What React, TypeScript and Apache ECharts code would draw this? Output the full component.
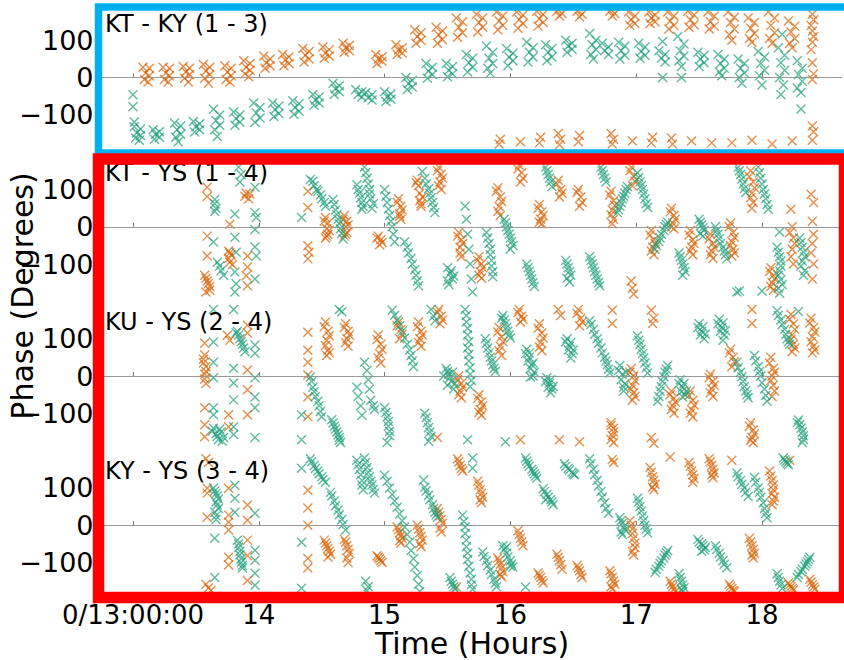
import React, { useEffect, useRef } from 'react';
import * as echarts from 'echarts';

const PANEL_TITLES = ['KT - KY (1 - 3)', 'KT - YS (1 - 4)', 'KU - YS (2 - 4)', 'KY - YS (3 - 4)'];
const HOUR_TICKS = [13, 14, 15, 16, 17, 18];
const HOUR_LABELS = ['0/13:00:00', '14', '15', '16', '17', '18'];
const PHASE_TICKS = [-100, 0, 100];
const PHASE_LABELS = ['\u2212100', '0', '100'];
const X_TITLE = 'Time (Hours)';
const Y_TITLE = 'Phase (Degrees)';

const P1_ORANGE = [
[13.08,28],[13.13,25],[13.10,12],[13.13,5],[13.09,-5],[13.12,-12],
[13.24,28],[13.29,25],[13.26,12],[13.29,5],[13.25,-5],[13.28,-12],
[13.40,30],[13.45,25],[13.42,15],[13.45,8],[13.41,-2],[13.44,-12],
[13.56,35],[13.61,28],[13.58,18],[13.61,8],[13.57,-2],[13.60,-15],
[13.73,32],[13.78,25],[13.75,15],[13.78,5],[13.74,-5],[13.77,-12],
[13.88,45],[13.93,38],[13.90,28],[13.93,20],[13.89,10],[13.92,2],
[14.04,58],[14.09,50],[14.06,40],[14.09,32],[14.05,25],
[14.19,62],[14.24,55],[14.21,47],[14.24,38],[14.20,32],
[14.35,78],[14.40,70],[14.37,60],[14.40,50],[14.36,42],
[14.51,82],[14.56,75],[14.53,66],[14.56,58],[14.52,52],
[14.67,92],[14.72,86],[14.69,80],[14.72,72],[14.68,68],
[14.93,62],[14.98,56],[14.95,50],[14.98,44],[14.94,38],
[15.09,88],[15.14,80],[15.11,74],[15.14,66],[15.10,62],
[15.24,128],[15.29,120],[15.26,110],[15.29,100],[15.25,92],
[15.41,135],[15.46,125],[15.43,115],[15.46,102],[15.42,92],
[15.57,160],[15.62,150],[15.59,135],[15.62,120],[15.58,108],
[15.73,170],[15.78,160],[15.75,148],[15.78,135],[15.74,122],
[15.89,176],[15.94,165],[15.91,152],[15.94,140],[15.90,128],
[16.05,176],[16.10,168],[16.07,155],[16.10,145],[16.06,132],
[16.21,178],[16.26,170],[16.23,158],[16.26,148],[16.22,138],
[16.37,178],[16.41,172],[16.39,165],
[16.53,178],[16.57,170],[16.55,163],
[16.79,178],[16.83,172],[16.81,165],
[16.94,176],[16.99,165],[16.96,155],[16.99,145],[16.95,140],
[17.10,176],[17.15,168],[17.12,160],[17.15,150],[17.11,145],
[17.25,176],[17.30,165],[17.27,152],[17.30,140],[17.26,130],
[17.41,178],[17.46,168],[17.43,155],[17.46,142],[17.42,135],
[17.57,176],[17.62,165],[17.59,150],[17.62,138],[17.58,130],
[17.73,176],[17.78,162],[17.75,148],[17.78,130],[17.74,115],[17.76,100],
[17.89,160],[17.94,148],[17.91,132],[17.94,118],[17.90,105],[17.92,95],
[18.05,176],[18.10,160],[18.07,140],[18.10,120],[18.06,105],[18.08,92],
[18.21,152],[18.26,138],[18.23,122],[18.26,105],[18.22,92],[18.24,80],
[18.40,170],[18.41,155],[18.39,140],[18.40,125],[18.41,110],[18.40,95],[18.39,75],[18.40,40],[18.41,10],[18.40,-5],
[15.92,-165],[15.91,-178],[16.08,-172],[16.24,-160],[16.23,-175],[16.38,-150],[16.40,-165],[16.39,-180],
[16.55,-155],[16.54,-172],[16.80,-150],[16.82,-165],[16.81,-178],[16.97,-170],[17.13,-160],[17.12,-175],
[17.28,-162],[17.29,-178],[17.44,-170],[17.60,-175],[17.76,-175],[17.92,-168],[18.08,-178],[18.24,-170],
[18.40,-130],[18.41,-145],[18.40,-168]
];

const P1_TEAL = [
[13.00,-46],[13.00,-78],[13.01,-119],
[13.01,-132],[13.06,-138],[13.03,-148],[13.06,-155],[13.02,-162],[13.05,-168],
[13.16,-140],[13.21,-145],[13.18,-152],[13.21,-160],[13.17,-165],
[13.33,-122],[13.38,-130],[13.35,-140],[13.38,-152],[13.34,-160],[13.36,-172],
[13.48,-118],[13.53,-124],[13.50,-132],[13.53,-140],[13.49,-146],
[13.64,-85],[13.69,-100],[13.66,-115],[13.69,-128],[13.65,-140],[13.67,-158],
[13.80,-92],[13.85,-100],[13.82,-110],[13.85,-120],[13.81,-128],
[13.96,-68],[14.01,-80],[13.98,-95],[14.01,-108],[13.97,-120],
[14.11,-68],[14.16,-76],[14.13,-86],[14.16,-96],[14.12,-104],
[14.27,-62],[14.32,-70],[14.29,-80],[14.32,-90],[14.28,-98],
[14.43,-45],[14.48,-52],[14.45,-60],[14.48,-68],[14.44,-74],
[14.59,-15],[14.64,-22],[14.61,-30],[14.64,-38],[14.60,-45],
[14.77,-32],[14.82,-38],[14.79,-45],[14.82,-52],
[14.85,-40],[14.90,-46],[14.87,-54],[14.90,-60],
[15.00,-38],[15.05,-44],[15.02,-52],[15.05,-58],[15.01,-64],
[15.17,0],[15.22,-8],[15.19,-16],[15.22,-25],[15.18,-32],
[15.33,38],[15.38,28],[15.35,18],[15.38,8],[15.34,-2],
[15.49,38],[15.54,30],[15.51,20],[15.54,10],[15.50,2],
[15.65,62],[15.70,52],[15.67,40],[15.70,28],[15.66,15],
[15.81,85],[15.86,68],[15.83,52],[15.86,38],[15.82,25],[15.84,12],
[15.97,78],[16.02,65],[15.99,55],[16.02,45],[15.98,32],
[16.13,95],[16.18,80],[16.15,68],[16.18,55],[16.14,42],
[16.28,88],[16.33,78],[16.30,68],[16.33,55],[16.29,45],
[16.44,100],[16.49,92],[16.46,85],[16.49,76],[16.45,68],
[16.63,118],[16.68,100],[16.65,88],[16.68,75],[16.64,62],[16.66,50],
[16.73,92],[16.78,82],[16.75,72],[16.78,62],
[16.86,95],[16.91,85],[16.88,72],[16.91,60],[16.87,50],
[17.02,92],[17.07,82],[17.04,70],[17.07,60],[17.03,52],
[17.18,72],[17.23,62],[17.20,52],[17.23,42],[17.21,97],[17.21,0],
[17.33,110],[17.38,90],[17.35,72],[17.38,58],[17.34,45],[17.36,30],[17.36,0],
[17.49,68],[17.54,60],[17.51,50],[17.54,40],[17.50,30],
[17.65,62],[17.70,50],[17.67,38],[17.70,25],[17.66,15],[17.68,5],
[17.81,50],[17.86,38],[17.83,25],[17.86,12],[17.82,0],[17.84,-15],
[17.97,70],[18.02,55],[17.99,38],[18.02,20],[17.98,5],[18.00,-20],
[18.13,80],[18.18,60],[18.15,40],[18.18,20],[18.14,0],[18.17,-20],[18.15,-45],[18.16,116],
[18.28,45],[18.32,25],[18.29,8],[18.32,-10],[18.28,-28],[18.31,-40],[18.31,-84]
];

const P2_ORANGE = [
[13.59,106],[13.59,81],[13.59,-25],[13.59,-78],[13.57,-130],[13.59,-145],[13.61,-160],[13.58,-175],
[13.77,7],[13.76,-65],[13.78,-75],[13.77,-95],[13.79,-102],
[13.90,90],[13.92,75],[13.91,-78],[13.91,-108],[13.90,-131],[13.91,-158],
[14.39,95],[14.39,52],[14.39,-51],[14.40,-68],[14.39,-86],
[14.53,25],[14.55,10],[14.54,-5],[14.55,-20],[14.53,-30],
[14.68,30],[14.70,15],[14.69,0],[14.70,-15],[14.68,-25],
[14.95,-25],[14.97,-35],[14.96,-48],
[15.11,75],[15.13,55],[15.12,35],[15.13,20],
[15.26,125],[15.27,110],[15.28,90],[15.28,70],[15.29,55],
[15.43,160],[15.45,140],[15.44,120],[15.45,100],
[15.59,-15],[15.61,-35],[15.60,-55],[15.61,-80],
[15.75,-80],[15.77,-100],[15.76,-120],[15.77,-138],
[15.90,105],[15.92,80],[15.91,55],[15.92,30],
[16.07,165],[16.09,145],[16.08,120],
[16.23,60],[16.25,40],[16.24,20],[16.25,8],
[16.38,125],[16.40,100],[16.39,80],
[16.54,100],[16.56,80],[16.55,55],
[16.80,95],[16.82,70],[16.81,45],[16.82,20],[16.81,8],
[16.96,160],[16.98,135],[16.97,110],[16.96,-145],[16.97,-165],[16.98,-180],
[17.12,-10],[17.14,-35],[17.13,-55],[17.14,-75],
[17.28,50],[17.30,30],[17.29,10],[17.30,-5],
[17.43,-10],[17.45,-35],[17.44,-55],[17.45,-75],
[17.59,-20],[17.61,-45],[17.60,-65],[17.61,-85],
[17.75,10],[17.77,-15],[17.76,-40],[17.77,-60],[17.76,-78],
[17.91,150],[17.93,120],[17.92,90],[17.93,65],[17.92,50],
[18.07,-110],[18.09,-130],[18.08,-150],[18.09,-170],
[18.23,47],[18.24,0],[18.25,-30],[18.24,-60],[18.25,-100],
[18.39,87],[18.41,65],[18.40,15],[18.41,-20],[18.40,-45],[18.39,-70],[18.41,-100],[18.40,-140],
[13.58,-138],[13.60,-152],[13.61,-170],[13.77,-70],[13.76,-85],[13.89,82],[13.93,88],
[14.52,15],[14.56,-10],[14.54,-25],[14.67,20],[14.71,5],[14.69,-20],[14.94,-30],[14.98,-42],
[15.10,65],[15.14,45],[15.12,28],[15.25,118],[15.30,80],[15.29,62],[15.42,150],[15.46,130],[15.43,110],
[15.58,-25],[15.62,-45],[15.60,-70],[15.74,-90],[15.78,-110],[15.75,-130],[15.89,95],[15.93,68],[15.90,42],
[16.06,155],[16.10,130],[16.22,50],[16.26,30],[16.23,12],[16.37,115],[16.41,90],[16.53,92],[16.57,65],
[16.79,85],[16.83,58],[16.80,32],[16.95,150],[16.99,122],[17.11,-22],[17.15,-45],[17.12,-65],
[17.27,40],[17.31,20],[17.28,0],[17.42,-22],[17.46,-45],[17.43,-65],[17.58,-32],[17.62,-55],[17.59,-75],
[17.74,0],[17.78,-28],[17.75,-50],[17.78,-70],[17.90,135],[17.94,105],[17.91,78],
[18.06,-120],[18.10,-140],[18.07,-160],[18.22,-15],[18.26,-45],[18.23,-80]
];

const P2_TEAL = [
[13.65,73],[13.65,62],[13.66,50],[13.65,41],[13.64,-41],
[13.67,-95],[13.69,-105],[13.70,-118],[13.72,-130],
[13.81,34],[13.81,-28],[13.82,-68],[13.81,-121],[13.82,-153],[13.81,-175],
[13.84,160],[13.86,140],[13.85,120],
[13.97,106],[13.97,38],[13.98,25],[13.97,-7],[13.97,-54],[13.98,-78],[13.97,-140],
[14.34,25],
[14.41,127],[14.44,110],[14.47,95],[14.50,75],[14.53,55],
[14.59,73],[14.61,45],[14.63,20],[14.65,-5],[14.67,-33],
[14.78,113],[14.80,90],[14.82,65],[14.82,47],
[14.84,160],[14.86,130],[14.88,100],[14.89,75],[14.90,50],
[15.00,100],[15.02,65],[15.04,30],[15.06,0],[15.08,-40],
[15.16,-40],[15.19,-70],[15.22,-100],[15.25,-130],[15.27,-158],
[15.30,148],[15.33,115],[15.36,90],[15.38,65],[15.40,38],
[15.50,-110],[15.52,-125],[15.54,-140],[15.51,-155],
[15.64,55],[15.65,20],[15.66,-20],[15.67,-60],[15.68,-100],[15.69,-140],[15.70,-175],
[15.81,-15],[15.83,-45],[15.84,-75],[15.85,-105],[15.86,-134],
[15.95,20],[15.97,0],[15.99,-20],[16.01,-40],[16.00,-60],
[16.13,-100],[16.15,-120],[16.17,-140],[16.19,-160],
[16.28,160],[16.30,140],[16.32,120],[16.33,108],
[16.44,-90],[16.46,-110],[16.48,-130],[16.47,-148],
[16.63,-80],[16.65,-100],[16.67,-120],[16.69,-140],[16.71,-158],
[16.72,160],[16.74,140],[16.76,120],
[16.85,38],[16.87,55],[16.89,75],[16.91,90],[16.93,108],
[17.01,145],[17.03,120],[17.05,100],[17.07,75],[17.09,52],
[17.15,-60],[17.18,-40],[17.20,-20],[17.23,0],[17.25,12],
[17.34,-70],[17.36,-90],[17.38,-110],[17.37,-130],
[17.50,20],[17.52,5],[17.54,-10],[17.53,-25],
[17.63,0],[17.65,-20],[17.67,-45],[17.70,-65],[17.72,-86],
[17.80,-175],[17.82,-172],
[17.81,160],[17.83,140],[17.85,115],[17.87,92],
[17.97,160],[17.99,130],[18.01,100],[18.03,75],[18.05,47],
[18.00,-172],
[18.14,-14],[18.12,-55],[18.14,-80],[18.15,-105],[18.13,-130],[18.16,-155],[18.14,-178],
[18.30,-30],[18.32,-55],[18.34,-80],[18.31,-105],[18.33,-130],
[14.43,122],[14.46,100],[14.49,85],[14.52,65],[14.60,60],[14.62,32],[14.64,8],[14.66,-18],
[14.79,100],[14.81,78],[14.83,55],[14.85,145],[14.87,115],[14.88,88],[14.91,62],
[15.01,82],[15.03,48],[15.05,15],[15.07,-20],[15.18,-55],[15.21,-85],[15.24,-115],[15.26,-145],
[15.32,130],[15.35,102],[15.37,78],[15.39,52],[15.53,-118],[15.55,-132],[15.50,-145],
[15.82,-30],[15.84,-60],[15.85,-90],[15.86,-120],[15.96,10],[15.98,-10],[16.00,-30],[16.02,-50],
[16.14,-110],[16.16,-130],[16.18,-150],[16.29,150],[16.31,130],[16.45,-100],[16.47,-120],[16.45,-138],
[16.64,-90],[16.66,-110],[16.68,-130],[16.70,-150],[16.73,150],[16.75,130],
[16.86,46],[16.88,65],[16.90,82],[16.92,100],[17.02,132],[17.04,110],[17.06,88],[17.08,62],
[17.16,-50],[17.19,-30],[17.22,-10],[17.24,6],[17.35,-80],[17.37,-100],[17.39,-120],
[17.51,12],[17.53,-3],[17.51,-18],[17.64,-10],[17.66,-32],[17.69,-55],[17.71,-75],
[17.82,150],[17.84,128],[17.86,103],[17.98,145],[18.00,115],[18.02,88],[18.04,60],
[18.13,-68],[18.15,-92],[18.14,-118],[18.15,-142],[18.13,-165],[18.31,-42],[18.33,-68],[18.32,-92],[18.34,-118]
];

const P3_ORANGE = [
[13.57,88],[13.57,56],[13.56,45],[13.58,25],[13.57,5],[13.58,-20],[13.57,-85],[13.57,-131],[13.57,-163],
[13.75,109],[13.77,96],[13.76,-104],[13.76,-136],
[13.91,136],[13.91,115],[13.91,16],[13.91,-37],[13.91,-104],
[14.39,117],[14.39,69],[14.39,37],[14.39,3],[14.39,-56],[14.39,-109],
[14.53,145],[14.55,120],[14.54,95],[14.55,70],[14.54,55],
[14.69,140],[14.71,120],[14.70,100],[14.71,80],
[14.95,110],[14.97,85],[14.96,60],[14.97,35],
[15.11,145],[15.13,125],[15.12,100],
[15.27,145],[15.29,120],[15.28,100],[15.29,80],
[15.43,178],[15.45,160],[15.44,140],[15.42,-165],
[15.59,0],[15.61,-20],[15.60,-40],[15.61,-58],
[15.75,-50],[15.77,-70],[15.76,-90],[15.77,-105],
[15.91,130],[15.93,105],[15.92,80],[15.93,55],
[16.07,178],[16.09,160],[16.08,145],[16.08,-171],
[16.23,140],[16.25,115],[16.24,90],[16.25,68],
[16.38,178],[16.40,162],[16.39,-171],
[16.54,178],[16.56,155],[16.55,135],[16.55,-176],
[16.81,176],[16.81,141],[16.80,-125],[16.82,-140],[16.81,-160],[16.82,-178],
[16.96,20],[16.98,0],[16.97,-25],[16.98,-45],[16.97,-65],
[17.12,176],[17.14,155],[17.13,141],[17.12,-165],[17.14,-180],
[17.28,-40],[17.30,-60],[17.29,-80],[17.30,-100],
[17.43,-40],[17.45,-65],[17.44,-90],[17.45,-110],
[17.59,5],[17.61,-15],[17.60,-35],[17.61,-55],
[17.75,72],[17.77,50],[17.76,25],
[17.91,-125],[17.93,-145],[17.92,-165],[17.93,-178],[17.92,178],[17.92,141],
[18.07,50],[18.09,20],[18.08,0],[18.09,-25],[18.08,-55],
[18.23,165],[18.25,140],[18.24,110],[18.25,85],[18.24,65],
[18.39,155],[18.41,130],[18.40,105],[18.41,80],[18.40,62],
[13.56,35],[13.58,12],[13.57,-8],[14.52,132],[14.56,108],[14.53,82],[14.56,62],
[14.68,130],[14.72,110],[14.69,90],[14.94,98],[14.98,72],[14.95,48],[15.10,135],[15.14,112],
[15.26,132],[15.30,110],[15.27,90],[15.42,170],[15.46,150],[15.58,-10],[15.62,-30],[15.59,-50],
[15.74,-60],[15.78,-80],[15.75,-98],[15.90,118],[15.94,92],[15.91,68],[16.06,170],[16.10,152],
[16.22,128],[16.26,102],[16.23,78],[16.53,168],[16.57,145],[16.80,-132],[16.82,-150],[16.80,-170],
[16.95,10],[16.99,-12],[16.96,-35],[16.99,-55],[17.27,-50],[17.31,-70],[17.28,-90],
[17.42,-52],[17.46,-78],[17.43,-100],[17.58,-5],[17.62,-25],[17.59,-45],[17.74,62],[17.78,38],
[17.90,-135],[17.94,-155],[17.91,-172],[18.06,35],[18.10,10],[18.07,-12],[18.10,-40],
[18.22,152],[18.26,125],[18.23,98],[18.26,75],[18.38,142],[18.42,118],[18.39,92],[18.42,70]
];

const P3_TEAL = [
[13.64,178],[13.64,91],[13.64,37],[13.64,-5],[13.64,-85],[13.64,-104],
[13.64,-140],[13.66,-155],[13.68,-170],[13.70,-150],[13.72,-165],
[13.80,178],[13.80,21],[13.80,-19],[13.80,-64],[13.80,-136],[13.80,-157],
[13.83,120],[13.85,100],[13.87,85],[13.89,65],
[13.97,83],[13.97,61],[13.97,-5],[13.97,-56],[13.97,-85],[13.97,-165],
[14.34,-104],[14.34,-171],
[14.41,-3],[14.43,-30],[14.45,-55],[14.48,-80],[14.50,-109],
[14.58,-117],[14.60,-135],[14.62,-150],[14.64,-165],[14.65,-178],
[14.64,178],[14.66,172],
[14.78,-30],[14.79,-55],[14.81,-80],[14.82,-105],
[14.84,37],[14.86,15],[14.87,-10],[14.88,-35],
[14.89,-65],[14.91,-80],[14.92,-90],
[15.00,-85],[15.02,-110],[15.03,-135],[15.04,-160],[15.02,-178],
[15.06,176],[15.10,150],[15.14,120],[15.18,85],[15.21,55],[15.23,25],
[15.37,178],[15.39,160],[15.40,148],
[15.32,-100],[15.34,-125],[15.36,-150],[15.35,-175],
[15.49,20],[15.51,5],[15.53,-15],[15.55,-35],[15.52,-5],
[15.64,178],[15.65,145],[15.66,110],[15.66,75],[15.67,40],[15.68,5],[15.68,-29],[15.66,-171],
[15.80,100],[15.82,75],[15.84,50],[15.86,30],[15.88,12],
[15.94,162],[15.96,140],[15.98,120],[16.00,102],[15.96,-176],
[16.13,72],[16.15,50],[16.17,30],[16.19,10],[16.16,-3],
[16.29,-5],[16.31,-20],[16.33,-35],[16.32,-45],
[16.45,100],[16.47,80],[16.49,60],[16.48,48],
[16.63,148],[16.66,125],[16.69,100],[16.72,75],[16.75,50],[16.77,30],[16.79,8],
[16.87,28],[16.89,5],[16.91,-20],[16.90,-40],
[17.01,108],[17.03,85],[17.05,60],[17.07,35],[17.09,8],
[17.17,-68],[17.19,-40],[17.21,-15],[17.23,10],[17.25,28],
[17.35,-10],[17.37,-30],[17.39,-50],[17.37,-56],
[17.50,140],[17.52,120],[17.54,100],
[17.66,152],[17.68,130],[17.70,110],[17.69,96],
[17.80,37],[17.83,10],[17.85,-15],[17.87,-40],[17.89,-58],
[17.94,55],[17.97,25],[17.99,0],[18.02,-35],[18.04,-68],
[18.12,175],[18.15,150],[18.18,125],[18.20,100],[18.22,85],
[18.29,173],
[18.29,-118],[18.31,-140],[18.33,-160],[18.32,-178],
[13.63,-148],[13.67,-162],[13.71,-175],[13.69,-142],[13.84,110],[13.86,92],[13.88,75],[13.82,115],
[14.42,-15],[14.44,-42],[14.47,-68],[14.49,-95],[14.59,-126],[14.61,-142],[14.63,-158],[14.64,-172],
[15.01,-98],[15.03,-122],[15.04,-148],[15.08,163],[15.12,135],[15.16,102],[15.20,70],[15.22,40],
[15.33,-112],[15.35,-138],[15.37,-162],[15.47,0],[15.50,-25],[15.54,10],[15.56,-20],[15.50,12],
[15.65,162],[15.66,128],[15.67,92],[15.67,58],[15.68,22],[15.69,-12],[15.81,88],[15.83,62],[15.85,40],[15.87,20],
[15.95,150],[15.97,130],[15.99,110],[15.93,155],[16.12,60],[16.14,40],[16.16,20],[16.18,0],[16.15,62],[16.18,35],
[16.28,-15],[16.30,-30],[16.32,-10],[16.34,-28],[16.44,92],[16.46,70],[16.48,90],[16.50,70],
[16.64,138],[16.67,112],[16.70,88],[16.73,62],[16.76,40],[16.78,18],[16.86,15],[16.88,-10],[16.90,-30],[16.92,10],
[17.02,96],[17.04,72],[17.06,48],[17.08,22],[17.18,-55],[17.20,-28],[17.22,-2],[17.24,18],
[17.34,-20],[17.36,-42],[17.38,-20],[17.40,-40],[17.49,130],[17.51,110],[17.53,132],[17.55,112],
[17.65,140],[17.67,120],[17.69,142],[17.71,122],[17.81,22],[17.84,-2],[17.86,-28],[17.88,-50],
[17.95,40],[17.98,12],[18.00,-18],[18.03,-52],[18.13,162],[18.16,138],[18.19,112],[18.21,92],
[18.30,-130],[18.32,-150],[18.33,-170],[18.28,-125]
];

const P4_ORANGE = [
[13.58,178],[13.60,168],[13.59,99],[13.59,86],[13.59,21],[13.58,-158],[13.60,-168],[13.62,-175],
[13.76,99],[13.76,27],[13.76,8],[13.76,-13],[13.76,-86],[13.76,-107],
[13.91,54],[13.91,13],[13.91,-40],[13.91,-81],[13.91,-148],
[14.39,94],[14.39,46],[14.39,0],[14.39,-89],[14.39,-115],
[14.52,-40],[14.54,-55],[14.56,-70],[14.55,-85],
[14.68,-38],[14.70,-55],[14.72,-75],[14.71,-100],
[14.94,-82],[14.96,-90],[14.98,-100],
[15.10,-5],[15.12,-20],[15.14,-35],[15.13,-48],
[15.26,0],[15.28,-20],[15.30,-40],[15.29,-58],
[15.42,45],[15.44,25],[15.46,5],[15.45,-18],
[15.58,178],[15.60,160],[15.62,145],[15.57,-166],
[15.74,118],[15.76,95],[15.78,75],[15.77,60],
[15.90,-88],[15.92,-105],[15.94,-125],[15.93,-138],
[16.06,-15],[16.08,-35],[16.10,-55],
[16.22,-128],[16.24,-140],[16.26,-155],
[16.37,-78],[16.39,-95],[16.41,-118],
[16.53,-108],[16.55,-122],[16.57,-140],
[16.81,176],[16.82,168],[16.79,-122],[16.81,-140],[16.83,-158],[16.81,-172],
[16.95,12],[16.97,-10],[16.98,-35],[16.99,-60],[16.98,-80],
[17.11,155],[17.13,130],[17.15,110],[17.14,95],
[17.27,183],
[17.27,-150],[17.29,-165],[17.31,-178],
[17.42,168],[17.44,145],[17.46,125],[17.45,115],
[17.58,178],[17.60,160],[17.62,140],[17.61,127],
[17.74,-158],[17.76,-170],[17.78,-178],[17.76,174],
[17.90,-35],[17.92,-55],[17.94,-75],[17.93,-88],
[18.06,145],[18.08,120],[18.09,95],[18.10,75],[18.08,55],
[18.22,174],[18.21,-155],[18.23,-165],[18.25,-174],
[18.38,-145],[18.40,-160],[18.42,-172],
[14.53,-48],[14.55,-62],[14.57,-78],[14.69,-45],[14.71,-65],[14.70,-88],[14.95,-86],[14.97,-95],
[15.11,-12],[15.13,-28],[15.12,-42],[15.27,-10],[15.29,-30],[15.28,-50],[15.43,35],[15.45,15],[15.44,-8],
[15.59,170],[15.61,152],[15.75,108],[15.77,85],[15.76,68],[15.91,-95],[15.93,-115],[15.92,-132],
[16.07,-25],[16.09,-45],[16.23,-134],[16.25,-148],[16.38,-86],[16.40,-106],[16.54,-115],[16.56,-132],
[16.80,-130],[16.82,-150],[16.80,-165],[16.96,0],[16.97,-22],[16.99,-48],[16.97,-70],
[17.12,142],[17.14,120],[17.13,102],[17.28,-158],[17.30,-172],[17.43,158],[17.45,135],
[17.59,170],[17.61,150],[17.60,135],[17.75,-164],[17.77,-175],[17.91,-45],[17.93,-65],[17.92,-80],
[18.07,132],[18.09,108],[18.08,85],[18.09,65],[18.22,-160],[18.24,-170],[18.39,-152],[18.41,-166]
];

const P4_TEAL = [
[13.64,100],[13.66,85],[13.68,70],[13.67,55],[13.65,35],[13.66,15],[13.65,-35],[13.65,-140],
[13.81,107],[13.81,72],[13.81,35],
[13.83,-40],[13.84,-60],[13.85,-80],[13.86,-100],[13.87,-115],
[13.97,32],[13.97,-67],[13.97,-94],[13.97,-129],[13.97,-161],
[14.34,153],[14.34,-46],[14.34,-169],
[14.41,178],[14.44,160],[14.47,145],[14.50,130],[14.53,115],
[14.57,88],[14.60,65],[14.63,40],[14.66,15],[14.69,-13],
[14.78,174],[14.80,150],[14.82,120],[14.83,95],
[14.84,180],[14.86,155],[14.88,130],[14.90,108],[14.92,86],
[14.85,-150],[14.87,-165],[14.86,-175],
[15.00,134],[15.04,100],[15.08,65],[15.12,30],[15.16,-5],[15.20,-45],[15.23,-90],[15.26,-135],[15.28,-178],
[15.31,121],
[15.32,102],[15.35,80],[15.38,55],[15.40,35],[15.42,21],
[15.52,-140],[15.54,-158],[15.56,-172],
[15.62,27],[15.64,-5],[15.65,-40],[15.66,-75],[15.67,-110],[15.69,-145],[15.70,-172],
[15.70,180],[15.70,153],
[15.78,-72],[15.81,-95],[15.84,-120],[15.87,-145],[15.89,-165],
[15.94,-55],[15.97,-75],[16.00,-95],[16.02,-112],
[16.12,180],[16.14,165],[16.17,150],[16.19,138],[16.21,126],
[16.12,-166],
[16.26,98],[16.29,82],[16.32,68],[16.34,55],
[16.43,165],[16.46,152],[16.49,142],[16.51,135],
[16.63,178],[16.66,150],[16.69,120],[16.72,90],[16.75,60],[16.78,32],
[16.87,20],[16.89,5],[16.91,-12],[16.89,-25],
[17.01,72],[17.03,50],[17.05,25],[17.07,0],[17.09,-20],
[17.15,-126],[17.18,-110],[17.20,-95],[17.23,-80],[17.25,-68],
[17.34,-130],[17.36,-150],[17.38,-168],[17.37,-178],
[17.49,-38],[17.52,-50],[17.55,-60],[17.52,-70],
[17.63,-55],[17.66,-75],[17.69,-95],[17.72,-114],
[17.80,140],[17.83,120],[17.86,100],[17.89,77],
[17.94,128],[17.97,100],[17.99,75],[18.02,45],[18.04,20],
[18.12,-130],[18.14,-150],[18.16,-170],
[18.17,180],[18.19,170],[18.21,162],
[18.28,-140],[18.31,-125],[18.34,-110],[18.36,-98],[18.38,-86],
[13.65,92],[13.67,78],[13.66,62],[13.68,45],[13.66,25],[13.84,-50],[13.85,-70],[13.86,-90],[13.87,-108],
[14.42,170],[14.45,152],[14.48,138],[14.51,122],[14.58,78],[14.61,52],[14.64,28],[14.67,2],
[14.79,162],[14.81,135],[14.82,108],[14.85,168],[14.87,142],[14.89,118],[14.91,96],
[15.02,118],[15.06,82],[15.10,48],[15.14,12],[15.18,-25],[15.21,-68],[15.24,-112],[15.27,-158],
[15.33,92],[15.36,68],[15.39,45],[15.41,28],[15.53,-150],[15.55,-165],
[15.63,10],[15.64,-22],[15.65,-58],[15.66,-92],[15.68,-128],[15.69,-160],
[15.79,-84],[15.82,-108],[15.85,-132],[15.88,-155],[15.95,-65],[15.98,-85],[16.01,-104],[15.97,-58],[16.00,-110],
[16.13,172],[16.15,158],[16.18,144],[16.20,132],[16.27,90],[16.30,75],[16.33,62],[16.28,68],
[16.44,158],[16.47,148],[16.50,138],[16.64,165],[16.67,135],[16.70,105],[16.73,75],[16.76,45],
[16.88,12],[16.90,-5],[16.88,-18],[17.02,62],[17.04,38],[17.06,12],[17.08,-10],
[17.16,-118],[17.19,-102],[17.22,-88],[17.24,-74],[17.35,-140],[17.37,-160],[17.36,-172],
[17.50,-45],[17.53,-55],[17.54,-66],[17.64,-65],[17.67,-85],[17.70,-105],
[17.81,130],[17.84,110],[17.87,88],[17.95,115],[17.98,88],[18.01,60],[18.03,32],
[18.13,-140],[18.15,-160],[18.18,175],[18.20,166],[18.29,-132],[18.32,-118],[18.35,-104],[18.37,-92]
];

const ORANGE = '#d95f02';
const TEAL = '#1b9e77';
const FONT = 'DejaVu Sans';
const XSYM = 'path://M0,0L10,10M10,0L0,10';

export default function App() {
  const ref = useRef<HTMLDivElement>(null);
  useEffect(() => {
    if (!ref.current) return;
    const chart = echarts.init(ref.current, null, { renderer: 'svg' });
    const panels = [
      [P1_ORANGE, P1_TEAL],
      [P2_ORANGE, P2_TEAL],
      [P3_ORANGE, P3_TEAL],
      [P4_ORANGE, P4_TEAL],
    ];
    const top0 = 3;
    const ph = 149.2;
    const grid = panels.map((_, i) => ({ left: 98.5, width: 743, top: top0 + i * ph, height: ph }));
    const xAxis = panels.map((_, i) => ({
      type: 'value', gridIndex: i, min: 12.726, max: 18.632,
      axisLine: { show: true, lineStyle: { color: '#888', width: 1 } },
      axisTick: { show: true, inside: true, length: 4, customValues: HOUR_TICKS, lineStyle: { color: '#777', width: 1 } },
      axisLabel: {
        show: i === 3, customValues: HOUR_TICKS,
        formatter: (v: number) => { const k = HOUR_TICKS.indexOf(Math.round(v)); return k >= 0 ? HOUR_LABELS[k] : ''; },
        fontFamily: FONT, fontSize: 26, lineHeight: 22, color: '#000', margin: 4,
      },
      splitLine: { show: false },
    }));
    const yAxis = panels.map((_, i) => ({
      type: 'value', gridIndex: i, min: -200, max: 200, interval: 100,
      axisLine: { show: false }, axisTick: { show: false }, splitLine: { show: false },
      axisLabel: {
        formatter: (v: number) => { const k = PHASE_TICKS.indexOf(Math.round(v)); return k >= 0 ? PHASE_LABELS[k] : ''; },
        fontFamily: FONT, fontSize: 27, color: '#000', margin: 5,
      },
    }));
    const series: any[] = [];
    panels.forEach(([o, t], i) => {
      series.push({
        type: 'scatter', xAxisIndex: i, yAxisIndex: i, data: o, symbol: XSYM, symbolSize: 9,
        itemStyle: { color: ORANGE, borderColor: ORANGE, borderWidth: 1.4, opacity: 0.7 },
        silent: true,
        markLine: {
          silent: true, symbol: ['none', 'none'], label: { show: false },
          lineStyle: { color: '#aaa', type: 'dotted', width: 1 },
          data: [{ yAxis: 0 }],
        },
      });
      series.push({
        type: 'scatter', xAxisIndex: i, yAxisIndex: i, data: t, symbol: XSYM, symbolSize: 9,
        itemStyle: { color: TEAL, borderColor: TEAL, borderWidth: 1.4, opacity: 0.7 },
        silent: true,
      });
    });
    const titleY = [24, 173, 322, 471];
    const graphic: any[] = [
      ...PANEL_TITLES.map((txt, i) => ({
        type: 'text', x: 105, y: titleY[i], z: 50,
        style: { text: txt, fontFamily: FONT, fontSize: 24, fill: '#000', align: 'left', verticalAlign: 'middle' },
      })),
      {
        type: 'text', x: 472, y: 643, z: 50,
        style: { text: X_TITLE, fontFamily: FONT, fontSize: 30, lineHeight: 26, fill: '#000', align: 'center', verticalAlign: 'middle' },
      },
      {
        type: 'text', x: 22, y: 296, rotation: Math.PI / 2, z: 50,
        style: { text: Y_TITLE, fontFamily: FONT, fontSize: 30, fill: '#000', align: 'center', verticalAlign: 'middle' },
      },
      {
        type: 'rect', z: 60, silent: true,
        shape: { x: 98.5, y: 7, width: 760, height: 146 },
        style: { fill: 'rgba(0,0,0,0)', stroke: '#00b0f0', lineWidth: 7.5 },
      },
      {
        type: 'rect', z: 61, silent: true,
        shape: { x: 98.5, y: 159, width: 746, height: 438.5 },
        style: { fill: 'rgba(0,0,0,0)', stroke: '#ff0000', lineWidth: 11.5 },
      },
    ];
    chart.setOption({
      animation: false,
      backgroundColor: '#fff',
      grid, xAxis, yAxis, series, graphic,
    });
    return () => chart.dispose();
  }, []);
  return <div ref={ref} style={{ position: 'absolute', left: 0, top: 0, width: 844, height: 660 }} />;
}
